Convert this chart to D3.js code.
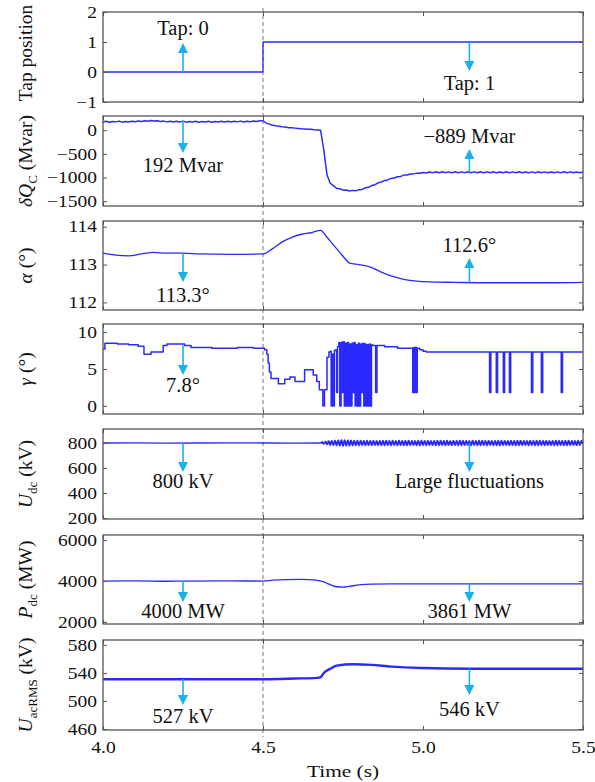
<!DOCTYPE html>
<html>
<head>
<meta charset="utf-8">
<script src="https://cdn.jsdelivr.net/npm/d3@7/dist/d3.min.js"></script>
<style>
  body { margin: 0; background: #fff; }
  text { font-family: "Liberation Serif", "Times New Roman", serif; fill: #111; }
</style>
</head>
<body>
<svg id="chart" width="595" height="782"></svg>
<script>
// ---- shared time axis ----
const timeDomain = [4.0, 5.5];
const timeTicks = [4.0, 4.5, 5.0, 5.5];
const eventTime = 4.5;

// ---- tap position ----
const tapTime = [4.0, 4.5, 5.5];
const tapValue = [0, 1, 1];
const tapTicks = [-1, 0, 1, 2];

// ---- reactive power deviation (Mvar), sampled every 10 ms from 4.00 s ----
const dqStart = 4.0, dqStep = 0.01;
const dqValue = [
  172, 188, 168, 184, 176, 192, 170, 186, 174, 190,
  178, 194, 182, 200, 190, 205, 196, 200, 186, 192,
  176, 190, 172, 188, 174, 192, 170, 186, 172, 188,
  170, 186, 172, 188, 170, 186, 174, 190, 172, 188,
  174, 190, 176, 192, 174, 190, 178, 194, 182, 198,
  200, 150, 128, 104, 92, 84, 72, 66, 54, 50,
  44, 38, 30, 28, 20, 18, 10, 6, 0, -420,
  -940, -1120, -1170, -1225, -1235, -1265, -1262, -1285, -1270, -1280,
  -1255, -1250, -1215, -1205, -1165, -1150, -1110, -1095, -1060, -1050,
  -1018, -1010, -982, -975, -948, -944, -924, -922, -906, -910,
  -895, -905, -884, -900, -878, -898, -876, -896, -880, -900,
  -878, -898, -880, -896, -876, -898, -880, -898, -878, -900,
  -880, -898, -878, -900, -882, -896, -878, -900, -880, -898,
  -878, -900, -882, -898, -880, -900, -878, -896, -880, -900,
  -882, -898, -880, -900, -878, -898, -880, -900, -882, -898,
  -884
];
const dqTicks = [-1500, -1000, -500, 0];

// ---- firing angle alpha (deg) ----
const alphaTime = [4.00, 4.04, 4.08, 4.12, 4.16, 4.20, 4.25, 4.30, 4.40, 4.50,
  4.53, 4.56, 4.59, 4.62, 4.65, 4.68, 4.70, 4.72, 4.74, 4.76, 4.77, 4.80,
  4.82, 4.84, 4.87, 4.90, 4.94, 4.98, 5.02, 5.10, 5.20, 5.30, 5.40, 5.50];
const alphaValue = [113.30, 113.25, 113.23, 113.28, 113.32, 113.30, 113.30, 113.28, 113.27, 113.28,
  113.42, 113.60, 113.72, 113.80, 113.84, 113.90, 113.72, 113.52, 113.32, 113.12, 113.04, 113.00,
  112.97, 112.92, 112.80, 112.70, 112.61, 112.56, 112.54, 112.53, 112.52, 112.52, 112.52, 112.53];
const alphaTicks = [112, 113, 114];

// ---- extinction angle gamma (deg), held between samples ----
const gammaTime = [4.000, 4.006, 4.045, 4.080, 4.110, 4.128, 4.150, 4.188, 4.200, 4.255,
  4.275, 4.340, 4.420, 4.470, 4.505, 4.512, 4.516, 4.520, 4.525, 4.548,
  4.568, 4.584, 4.600, 4.630, 4.657, 4.668, 4.676, 4.687, 4.692, 4.700,
  4.706, 4.709, 4.713, 4.716, 4.720, 4.723, 4.727, 4.730, 4.733, 4.737,
  4.740, 4.744, 4.747, 4.750, 4.754, 4.757, 4.761, 4.764, 4.767, 4.771,
  4.774, 4.778, 4.781, 4.784, 4.788, 4.791, 4.795, 4.798, 4.801, 4.805,
  4.808, 4.812, 4.815, 4.818, 4.822, 4.825, 4.829, 4.832, 4.835, 4.839,
  4.842, 4.852, 4.856, 4.880, 4.920, 4.968, 4.970, 4.972, 4.974, 4.976,
  4.978, 4.980, 4.982, 4.990, 5.000, 5.010, 5.208, 5.212, 5.229, 5.233,
  5.251, 5.255, 5.270, 5.274, 5.339, 5.343, 5.370, 5.374, 5.432, 5.436,
  5.500];
const gammaValue = [7.7, 8.5, 8.4, 8.3, 8.1, 7.0, 7.3, 8.2, 8.4, 8.2,
  7.9, 7.8, 7.9, 7.8, 7.6, 7.0, 5.8, 4.6, 3.7, 3.0,
  3.6, 3.9, 3.3, 4.9, 4.2, 3.3, 2.2, 0.0, 2.2, 6.6,
  7.3, 7.4, 0.0, 7.0, 0.0, 7.5, 7.6, 1.8, 8.0, 8.6,
  0.0, 8.6, 1.8, 8.7, 0.0, 8.5, 0.0, 8.6, 0.0, 8.4,
  0.0, 8.5, 1.8, 8.6, 0.0, 8.3, 0.0, 8.5, 0.0, 8.4,
  1.8, 8.5, 0.0, 8.4, 0.0, 8.3, 0.0, 8.4, 0.0, 8.3,
  8.2, 1.8, 8.2, 8.0, 7.8, 1.8, 7.9, 1.8, 7.9, 1.8,
  7.9, 1.8, 7.8, 7.6, 7.4, 7.3, 1.8, 7.3, 1.8, 7.3,
  1.8, 7.3, 1.8, 7.3, 1.8, 7.3, 1.8, 7.3, 1.8, 7.3,
  7.3];
const gammaTicks = [0, 5, 10];

// ---- DC voltage (kV): steady part, then 5 ms samples from 4.68 s ----
const udcSteadyTime = [4.00, 4.10, 4.20, 4.30, 4.40, 4.50, 4.60, 4.68];
const udcSteadyValue = [800, 801, 799, 800, 801, 800, 799, 800];
const udcFluctStart = 4.68, udcFluctStep = 0.005;
const udcFluctValue = [
  800, 806, 794, 810, 790, 814, 786, 816, 784, 818,
  782, 820, 780, 822, 779, 821, 780, 820, 781, 819,
  782, 818, 783, 817, 782, 818, 784, 816, 783, 817,
  784, 816, 783, 817, 785, 815, 784, 816, 783, 817,
  782, 818, 784, 816, 783, 817, 785, 815, 782, 818,
  784, 816, 783, 817, 782, 818, 784, 816, 785, 815,
  783, 817, 782, 818, 784, 816, 783, 817, 785, 815,
  784, 816, 782, 818, 783, 817, 784, 816, 782, 818,
  785, 815, 783, 817, 784, 816, 782, 818, 783, 817,
  784, 816, 785, 815, 782, 818, 784, 816, 783, 817,
  782, 818, 784, 816, 783, 817, 785, 815, 784, 816,
  783, 817, 782, 818, 784, 816, 785, 815, 783, 817,
  784, 816, 782, 818, 783, 817, 784, 816, 785, 815,
  782, 818, 784, 816, 783, 817, 782, 818, 784, 816,
  783, 817, 785, 815, 784, 816, 782, 818, 783, 817,
  784, 816, 783, 817, 782, 818, 784, 816, 785, 815,
  783, 817, 784, 816, 800
];
const udcTicks = [200, 400, 600, 800];

// ---- DC power (MW) ----
const pdcTime = [4.00, 4.10, 4.20, 4.30, 4.40, 4.50, 4.53, 4.57, 4.62, 4.66,
  4.69, 4.71, 4.73, 4.75, 4.77, 4.80, 4.84, 4.90, 5.00, 5.10, 5.145, 5.30, 5.50];
const pdcValue = [4000, 4010, 3990, 4000, 4005, 4000, 4040, 4070, 4080, 4060,
  3960, 3820, 3720, 3700, 3740, 3810, 3850, 3862, 3858, 3860, 3861, 3862, 3860];
const pdcTicks = [2000, 4000, 6000];

// ---- AC RMS voltage (kV) ----
const uacTime = [4.00, 4.20, 4.40, 4.50, 4.60, 4.67, 4.68, 4.69, 4.71, 4.73,
  4.78, 4.84, 4.90, 5.00, 5.145, 5.30, 5.50];
const uacValue = [531, 531, 531, 531, 532, 533, 534, 540, 546, 550.5,
  552.5, 551.5, 549, 547, 546, 546, 546];
const uacTicks = [460, 500, 540, 580];

// ---- value call-outs: [panel, time, arrow start, arrow tip, text baseline, text] ----
const callouts = [
  [0, 4.25, 0, 0.97, 1.23, "Tap: 0"],
  [0, 5.145, 1, 0.03, -0.6, "Tap: 1"],
  [1, 4.25, 192, -481, -882, "192 Mvar"],
  [1, 5.145, -889, -397, -270, "\u2212889 Mvar"],
  [2, 4.25, 113.3, 112.54, 112.01, "113.3\u00b0"],
  [2, 5.145, 112.53, 113.17, 113.33, "112.6\u00b0"],
  [3, 4.25, 8.2, 4.19, 1.88, "7.8\u00b0"],
  [4, 4.25, 800, 568, 440, "800 kV"],
  [4, 5.145, 800, 568, 440, "Large fluctuations"],
  [5, 4.25, 4000, 2975, 2193, "4000 MW"],
  [5, 5.145, 3861, 2975, 2193, "3861 MW"],
  [6, 4.25, 531, 494.3, 468.6, "527 kV"],
  [6, 5.145, 546, 508.5, 478.6, "546 kV"]
];

// ---------------------------------------------------------------
const zip = (ts, vs) => ts.map((t, i) => [t, vs[i]]);
const sampled = (t0, dt, vs) => vs.map((v, i) => [t0 + i * dt, v]);
const fmt = d => (d < 0 ? "\u2212" : "") + Math.abs(d);

const LINE = "#2a2aff";
const ARROW = "#1ab0e8";
const FRAME = "#555";
const TICK_FONT = 16, TICK_STRETCH = 1.22;

const svg = d3.select("#chart");
const x = d3.scaleLinear().domain(timeDomain).range([103, 583]);

const panels = [
  { top: 12, bottom: 102, domain: [-1, 2], ticks: tapTicks,
    series: [{ data: zip(tapTime, tapValue), curve: d3.curveStepAfter, w: 1.3 }],
    label: [["Tap position", null]], labelShift: -4 },
  { top: 116, bottom: 206, domain: [-1600, 300], ticks: dqTicks,
    series: [{ data: sampled(dqStart, dqStep, dqValue), curve: d3.curveLinear, w: 1.5 }],
    label: [["\u03b4Q", "i"], ["C", "sub"], [" (Mvar)", null]] },
  { top: 221, bottom: 310, domain: [111.8, 114.15], ticks: alphaTicks,
    series: [{ data: zip(alphaTime, alphaValue), curve: d3.curveMonotoneX, w: 1.3 }],
    label: [["\u03b1", "i"], [" (\u00b0)", null]] },
  { top: 324, bottom: 414, domain: [-1.1, 11.1], ticks: gammaTicks,
    series: [{ data: zip(gammaTime, gammaValue), curve: d3.curveStepAfter, w: 1.5 }],
    label: [["\u03b3", "i"], [" (\u00b0)", null]] },
  { top: 429, bottom: 519, domain: [192, 912], ticks: udcTicks,
    series: [
      { data: zip(udcSteadyTime, udcSteadyValue), curve: d3.curveLinear, w: 1.3 },
      { data: sampled(udcFluctStart, udcFluctStep, udcFluctValue), curve: d3.curveLinear, w: 2.0 }
    ],
    label: [["U", "i"], ["dc", "sub"], [" (kV)", null]] },
  { top: 535, bottom: 624, domain: [1900, 6250], ticks: pdcTicks,
    series: [{ data: zip(pdcTime, pdcValue), curve: d3.curveMonotoneX, w: 1.3 }],
    label: [["P", "i"], ["dc", "sub"], [" (MW)", null]] },
  { top: 640, bottom: 730, domain: [458.6, 587], ticks: uacTicks,
    series: [{ data: zip(uacTime, uacValue), curve: d3.curveMonotoneX, w: 2.4 }],
    label: [["U", "i"], ["acRMS", "sub"], [" (kV)", null]] }
];

// dashed marker at the tap change instant, spanning all panels
svg.append("line")
  .attr("x1", x(eventTime)).attr("x2", x(eventTime))
  .attr("y1", 8).attr("y2", 737)
  .attr("stroke", "#777").attr("stroke-width", 1)
  .attr("stroke-dasharray", "4,3");

panels.forEach((p, idx) => {
  const y = d3.scaleLinear().domain(p.domain).range([p.bottom, p.top]);
  p.y = y;
  const g = svg.append("g");

  // series
  p.series.forEach(s => {
    g.append("path")
      .datum(s.data)
      .attr("fill", "none")
      .attr("stroke", LINE)
      .attr("stroke-width", s.w)
      .attr("stroke-linejoin", "round")
      .attr("d", d3.line().x(d => x(d[0])).y(d => y(d[1])).curve(s.curve));
  });

  // axes with inward ticks
  const left = g.append("g").attr("transform", `translate(${x(timeDomain[0])},0)`)
    .call(d3.axisLeft(y).tickValues(p.ticks).tickFormat(fmt).tickSizeInner(-4).tickSizeOuter(0));
  const right = g.append("g").attr("transform", `translate(${x(timeDomain[1])},0)`)
    .call(d3.axisRight(y).tickValues(p.ticks).tickSizeInner(-4).tickSizeOuter(0).tickFormat(""));
  const top = g.append("g").attr("transform", `translate(0,${p.top})`)
    .call(d3.axisTop(x).tickValues(timeTicks).tickSizeInner(-4).tickSizeOuter(0).tickFormat(""));
  const bottomAxis = d3.axisBottom(x).tickValues(timeTicks).tickSizeInner(-4).tickSizeOuter(0);
  if (idx < panels.length - 1) bottomAxis.tickFormat("");
  else bottomAxis.tickFormat(d3.format(".1f"));
  const bottom = g.append("g").attr("transform", `translate(0,${p.bottom})`).call(bottomAxis);

  [left, right, top, bottom].forEach(a => {
    a.select(".domain").remove();
    a.selectAll("line").attr("stroke", FRAME).attr("stroke-width", 1);
    a.attr("font-family", null);
  });

  left.selectAll("text")
    .attr("font-size", TICK_FONT).attr("fill", "#111")
    .attr("x", 0).attr("dy", "0.33em")
    .attr("transform", `translate(-6,0) scale(${TICK_STRETCH},1)`);
  bottom.selectAll("text")
    .attr("font-size", TICK_FONT).attr("fill", "#111")
    .attr("y", 0).attr("dy", 0)
    .attr("transform", `translate(0,23) scale(${TICK_STRETCH},1)`);

  // frame
  g.append("rect")
    .attr("x", x(timeDomain[0])).attr("y", p.top)
    .attr("width", x(timeDomain[1]) - x(timeDomain[0]))
    .attr("height", p.bottom - p.top)
    .attr("fill", "none").attr("stroke", FRAME).attr("stroke-width", 1.3);

  // y label
  const lab = svg.append("text")
    .attr("transform", `translate(32,${(p.top + p.bottom) / 2 + (p.labelShift || 0)}) rotate(-90)`)
    .attr("text-anchor", "middle")
    .attr("font-size", 19.5);
  let shifted = false;
  p.label.forEach(([txt, style]) => {
    const t = lab.append("tspan").text(txt);
    if (style === "i") t.attr("font-style", "italic");
    if (style === "sub") { t.attr("font-size", 13).attr("dy", 5); shifted = true; }
    else if (shifted) { t.attr("dy", -5); shifted = false; }
  });
});

// call-outs
callouts.forEach(([pi, t, from, tip, textAt, label]) => {
  const y = panels[pi].y;
  const cx = x(t), y0 = y(from), y1 = y(tip);
  const dir = Math.sign(y1 - y0);
  const head = 10, half = 5;
  svg.append("line")
    .attr("x1", cx).attr("x2", cx)
    .attr("y1", y0).attr("y2", y1 - dir * head)
    .attr("stroke", ARROW).attr("stroke-width", 1.6);
  svg.append("path")
    .attr("d", `M${cx},${y1} L${cx - half},${y1 - dir * head} L${cx + half},${y1 - dir * head} Z`)
    .attr("fill", ARROW);
  svg.append("text")
    .attr("x", cx).attr("y", y(textAt))
    .attr("text-anchor", "middle")
    .attr("font-size", 20.5)
    .text(label);
});

// x-axis title
svg.append("text")
  .attr("transform", `translate(343,777) scale(${TICK_STRETCH},1)`)
  .attr("text-anchor", "middle")
  .attr("font-size", 17.5)
  .text("Time (s)");
</script>
</body>
</html>
